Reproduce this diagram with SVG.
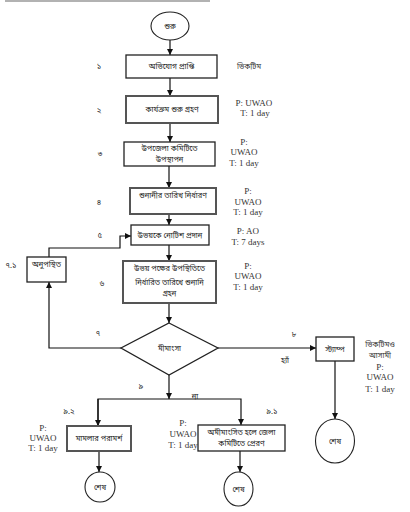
<svg xmlns="http://www.w3.org/2000/svg" width="410" height="512" viewBox="0 0 410 512">
<style>
  .bg { fill: #ffffff; }
  .box { fill: #ffffff; stroke: #222; stroke-width: 1.3; }
  .gbox { fill: #ffffff; stroke: #555; stroke-width: 2; }
  .term { fill: #ffffff; stroke: #222; stroke-width: 1.1; }
  .bn { font-family: "Noto Sans Bengali", "Noto Sans", "Liberation Sans", sans-serif; font-size: 7.5px; fill: #222; text-anchor: middle; }
  .num { font-family: "Noto Sans Bengali", "Noto Sans", "Liberation Sans", sans-serif; font-size: 7.5px; fill: #222; text-anchor: middle; }
  .en { font-family: "Liberation Serif", "Times New Roman", serif; font-size: 9px; fill: #333; text-anchor: middle; }
  .enb { font-family: "Noto Sans Bengali", "Noto Sans", "Liberation Sans", sans-serif; font-size: 7.5px; fill: #333; text-anchor: middle; }
  .conn { fill: none; stroke: #111; stroke-width: 1.2; }
</style>
<defs>
  <marker id="arr" viewBox="0 0 10 10" refX="10" refY="5" markerWidth="6" markerHeight="6" markerUnits="userSpaceOnUse" orient="auto">
    <path d="M0,0 L10,5 L0,10 z" fill="#111"/>
  </marker>
</defs>
<rect class="bg" x="0" y="0" width="410" height="512"/>
<line x1="5" y1="1" x2="210" y2="1" stroke="#999" stroke-width="1.5"/>

<g id="connectors">
  <path class="conn" d="M170,40 L170,55" marker-end="url(#arr)"/>
  <path class="conn" d="M170,78 L170,96" marker-end="url(#arr)"/>
  <path class="conn" d="M170,123 L170,142" marker-end="url(#arr)"/>
  <path class="conn" d="M169,166 L169,188" marker-end="url(#arr)"/>
  <path class="conn" d="M169,214 L169,225" marker-end="url(#arr)"/>
  <path class="conn" d="M169,245 L169,261" marker-end="url(#arr)"/>
  <path class="conn" d="M169,303 L169,323" marker-end="url(#arr)"/>
  <path class="conn" d="M121,348 L49,348 L49,282" marker-end="url(#arr)"/>
  <path class="conn" d="M49,257 L49,248 L120,248 L120,236 L131,236" marker-end="url(#arr)"/>
  <path class="conn" d="M218,348 L316,348" marker-end="url(#arr)"/>
  <path class="conn" d="M335,361 L335,419" marker-end="url(#arr)"/>
  <path class="conn" d="M169,375 L169,399" marker-end="url(#arr)"/>
  <path class="conn" d="M98,426 L98,399 L241,399 L241,425" marker-end="url(#arr)"/>
  <path class="conn" d="M98,399 L98,426" marker-end="url(#arr)"/>
  <path class="conn" d="M99,451 L99,472" marker-end="url(#arr)"/>
  <path class="conn" d="M240,451 L240,472" marker-end="url(#arr)"/>
</g>

<g id="start">
  <ellipse class="term" cx="170" cy="26" rx="19" ry="14"/>
  <text class="bn" x="170" y="29">শুরু</text>
</g>
<g id="n1">
  <rect class="box" x="126" y="55" width="91" height="23"/>
  <text class="bn" x="171.5" y="69">অভিযোগ প্রাপ্তি</text>
  <text class="num" x="99" y="69">১</text>
  <text class="enb" x="249" y="69">ভিকটিম</text>
</g>
<g id="n2">
  <rect class="gbox" x="126" y="96" width="92" height="27"/>
  <text class="bn" x="172" y="112">কার্যক্রম শুরু গ্রহণ</text>
  <text class="num" x="99" y="113">২</text>
  <text class="en" x="254" y="106">P: UWAO</text>
  <text class="en" x="255" y="116">T: 1 day</text>
</g>
<g id="n3">
  <rect class="box" x="124" y="142" width="91" height="24"/>
  <text class="bn" x="169.5" y="151">উপজেলা কমিটিতে</text>
  <text class="bn" x="169.5" y="162">উপস্থাপন</text>
  <text class="num" x="100" y="157">৩</text>
  <text class="en" x="244" y="145">P:</text>
  <text class="en" x="244" y="155">UWAO</text>
  <text class="en" x="244" y="166">T: 1 day</text>
</g>
<g id="n4">
  <rect class="gbox" x="130" y="188" width="86" height="26"/>
  <text class="bn" x="173" y="198">শুনানীর তারিখ নির্ধারণ</text>
  <text class="num" x="99" y="205">৪</text>
  <text class="en" x="248" y="194">P:</text>
  <text class="en" x="248" y="205">UWAO</text>
  <text class="en" x="248" y="215">T: 1 day</text>
</g>
<g id="n5">
  <rect class="box" x="131" y="225" width="78" height="20"/>
  <text class="bn" x="170" y="238">উভয়কে নোটিশ প্রদান</text>
  <text class="num" x="100" y="238">৫</text>
  <text class="en" x="248" y="234">P: AO</text>
  <text class="en" x="248" y="245">T: 7 days</text>
</g>
<g id="n6">
  <rect class="gbox" x="123" y="261" width="93" height="42"/>
  <text class="bn" x="169.5" y="271">উভয় পক্ষের উপস্থিতিতে</text>
  <text class="bn" x="169.5" y="285">নির্ধারিত তারিখে শুনানি</text>
  <text class="bn" x="169.5" y="296">গ্রহন</text>
  <text class="num" x="102" y="286">৬</text>
  <text class="en" x="248" y="269">P:</text>
  <text class="en" x="248" y="279">UWAO</text>
  <text class="en" x="248" y="290">T: 1 day</text>
</g>
<g id="n71">
  <rect class="box" x="27" y="257" width="39" height="25"/>
  <text class="bn" x="46.5" y="267">অনুপস্থিত</text>
  <text class="num" x="11" y="268">৭.১</text>
</g>
<g id="decision">
  <polygon class="box" points="169,323 218,348 169,375 121,348"/>
  <text class="bn" x="169.5" y="351">মীমাংসা</text>
  <text class="num" x="98" y="336">৭</text>
  <text class="num" x="294" y="337">৮</text>
  <text class="num" x="285" y="363">হ্যাঁ</text>
  <text class="num" x="141" y="389">৯</text>
  <text class="num" x="195" y="399">না</text>
</g>
<g id="n8">
  <rect class="box" x="316" y="337" width="38" height="24"/>
  <text class="bn" x="335" y="352">স্ট্যাম্প</text>
  <text class="enb" x="380" y="347">ভিকটিমও</text>
  <text class="enb" x="380" y="358">আসামী</text>
  <text class="en" x="380" y="370">P:</text>
  <text class="en" x="380" y="380">UWAO</text>
  <text class="en" x="380" y="392">T: 1 day</text>
</g>
<g id="end8">
  <ellipse class="term" cx="335" cy="441" rx="19.5" ry="22"/>
  <text class="bn" x="335" y="444">শেষ</text>
</g>
<g id="n92">
  <rect class="gbox" x="67" y="426" width="64" height="25"/>
  <text class="bn" x="99" y="441">মামলার পরামর্শ</text>
  <text class="num" x="69" y="414">৯.২</text>
  <text class="en" x="43" y="431">P:</text>
  <text class="en" x="43" y="441">UWAO</text>
  <text class="en" x="43" y="451">T: 1 day</text>
</g>
<g id="end92">
  <ellipse class="term" cx="100" cy="487" rx="15" ry="15"/>
  <text class="bn" x="100" y="490">শেষ</text>
</g>
<g id="n91">
  <rect class="box" x="198" y="425" width="87" height="26"/>
  <text class="bn" x="241.5" y="435">অমীমাংসিত হলে জেলা</text>
  <text class="bn" x="241.5" y="446">কমিটিতে প্রেরণ</text>
  <text class="num" x="272" y="414">৯.১</text>
  <text class="en" x="183" y="426">P:</text>
  <text class="en" x="183" y="437">UWAO</text>
  <text class="en" x="183" y="448">T: 1 day</text>
</g>
<g id="end91">
  <ellipse class="term" cx="238.5" cy="489" rx="14.5" ry="17"/>
  <text class="bn" x="238.5" y="492">শেষ</text>
</g>
</svg>
